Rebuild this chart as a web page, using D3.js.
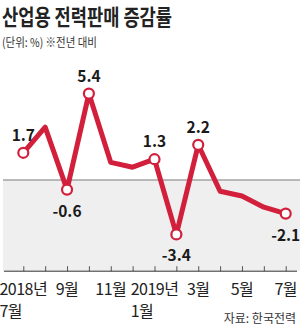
<!DOCTYPE html>
<html>
<head>
<meta charset="utf-8">
<script src="https://cdn.jsdelivr.net/npm/d3@7"></script>
<style>
body { margin: 0; background: #fff; }
text { font-family: "Noto Sans CJK KR", sans-serif; }
.num { font-family: "Liberation Sans Narrow", "Noto Sans CJK KR", sans-serif; }
</style>
</head>
<body>
<script>
var months = ["2018-07","2018-08","2018-09","2018-10","2018-11","2018-12",
	"2019-01","2019-02","2019-03","2019-04","2019-05","2019-06","2019-07"];
var values = [1.7, 3.3, -0.6, 5.4, 1.1, 0.8, 1.3, -3.4, 2.2, -0.7, -1.0, -1.7, -2.1];
var labeledMonths = ["2018-07","2018-09","2018-10","2019-01","2019-02","2019-03","2019-07"];
var tickMonths = ["2018-07","2018-09","2018-11","2019-01","2019-03","2019-05","2019-07"];
var tickLine1 = ["2018년","9월","11월","2019년","3월","5월","7월"];
var tickLine2 = ["7월","","","1월","","",""];

var w = 300;
var h = 329;
var red = "#d21f3c";

var dataset = months.map(function(m, i){
	return {month: m, value: values[i]};
});

var svg = d3.select("body")
			.append("svg")
			.attr("width", w)
			.attr("height", h);

var xScale = d3.scalePoint()
			.domain(months)
			.range([23.3, 285.7]);

var yScale = d3.scaleLinear()
			.domain([-5.7, 5.4])
			.range([271.2, 93.6]);

// gray area below zero
svg.append("rect")
	.attr("x", 3)
	.attr("y", yScale(0))
	.attr("width", w - 3)
	.attr("height", yScale(-5.7) - yScale(0))
	.attr("fill", "#efefef");

svg.append("line")
	.attr("x1", 3)
	.attr("x2", w)
	.attr("y1", yScale(0))
	.attr("y2", yScale(0))
	.attr("stroke", "#a3a3a3")
	.attr("stroke-width", 1.5);

// axis, ticks pointing up
var xAxis = d3.axisBottom(xScale)
			.tickSize(-5)
			.tickSizeOuter(0)
			.tickFormat("");

var axisG = svg.append("g")
	.attr("transform", "translate(0," + yScale(-5.7) + ")")
	.call(xAxis);
axisG.select(".domain").remove();
axisG.selectAll(".tick line").attr("stroke", "#555");
axisG.append("line")
	.attr("x1", 4)
	.attr("x2", 297)
	.attr("stroke", "#333")
	.attr("stroke-width", 1);

tickMonths.forEach(function(m, i){
	var t1 = svg.append("text")
		.attr("class", "num")
		.attr("x", xScale(m))
		.attr("y", 295)
		.attr("text-anchor", "middle")
		.attr("font-size", 16)
		.attr("letter-spacing", -0.5)
		.attr("fill", "#222")
		.text(tickLine1[i]);
	if(tickLine2[i]){
		var len = t1.node().getComputedTextLength();
		svg.append("text")
			.attr("class", "num")
			.attr("x", xScale(m) - len / 2)
			.attr("y", 317)
			.attr("font-size", 16)
			.attr("letter-spacing", -0.5)
			.attr("fill", "#222")
			.text(tickLine2[i]);
	}
});

var line = d3.line()
	.x(function(d){ return xScale(d.month); })
	.y(function(d){ return yScale(d.value); });

svg.append("path")
	.datum(dataset)
	.attr("d", line)
	.attr("fill", "none")
	.attr("stroke", red)
	.attr("stroke-width", 5)
	.attr("stroke-linejoin", "round");

var marked = dataset.filter(function(d){
	return labeledMonths.indexOf(d.month) >= 0;
});

svg.selectAll("circle")
	.data(marked)
	.enter()
	.append("circle")
	.attr("cx", function(d){ return xScale(d.month); })
	.attr("cy", function(d){ return yScale(d.value); })
	.attr("r", 5)
	.attr("fill", "#fff")
	.attr("stroke", red)
	.attr("stroke-width", 2.2);

svg.selectAll(".vlabel")
	.data(marked)
	.enter()
	.append("text")
	.attr("class", "vlabel num")
	.attr("x", function(d){ return xScale(d.month); })
	.attr("y", function(d){ return yScale(d.value) + (d.value >= 0 ? -12 : 27); })
	.attr("text-anchor", "middle")
	.attr("font-size", 15.5)
	.attr("font-weight", "bold")
	.attr("fill", "#1a1a1a")
	.text(function(d){ return d3.format(".1f")(d.value).replace("−", "-"); });

// title and notes
svg.append("text")
	.attr("x", 2)
	.attr("y", 25)
	.attr("font-size", 22)
	.attr("font-weight", "bold")
	.attr("fill", "#222")
	.attr("textLength", 170)
	.attr("lengthAdjust", "spacingAndGlyphs")
	.text("산업용 전력판매 증감률");

svg.append("text")
	.attr("x", 2)
	.attr("y", 47)
	.attr("font-size", 12)
	.attr("fill", "#333")
	.attr("textLength", 95)
	.attr("lengthAdjust", "spacingAndGlyphs")
	.text("(단위: %)  ※전년 대비");

svg.append("text")
	.attr("x", 296)
	.attr("y", 323)
	.attr("text-anchor", "end")
	.attr("font-size", 12)
	.attr("fill", "#333")
	.text("자료: 한국전력");
</script>
</body>
</html>
